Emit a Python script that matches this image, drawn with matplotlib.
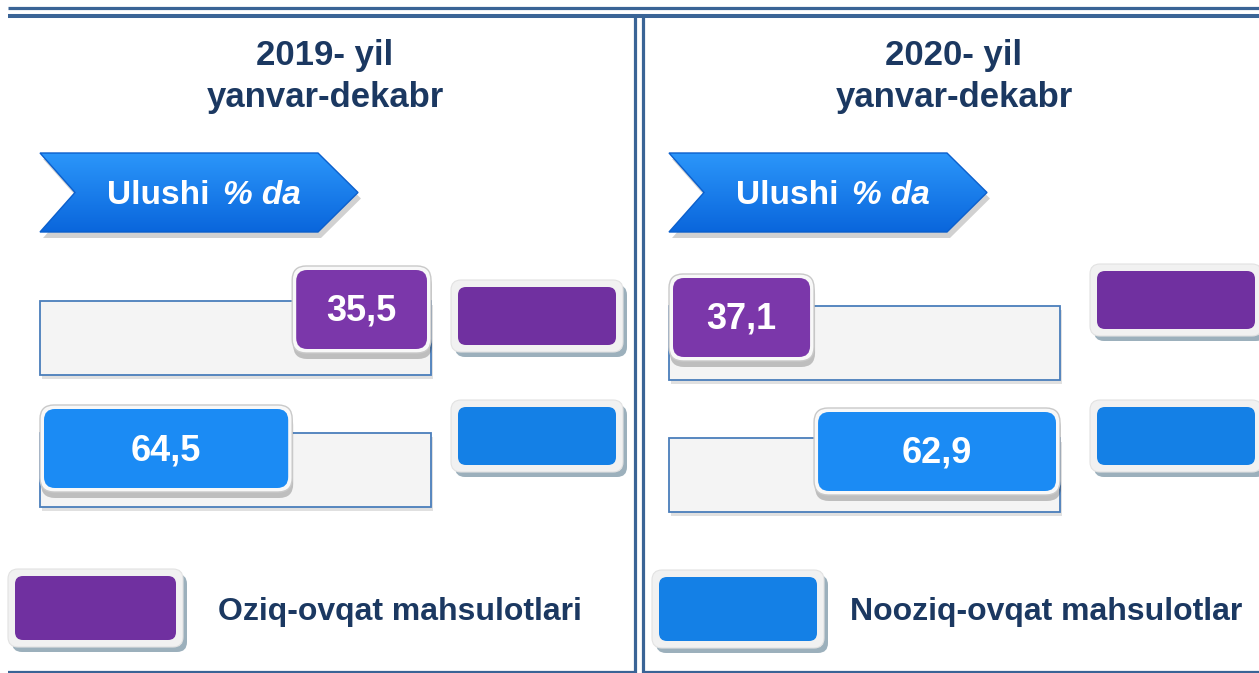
import matplotlib
matplotlib.use("Agg")
import matplotlib.pyplot as plt
from matplotlib.patches import FancyBboxPatch, Rectangle, Polygon
import numpy as np

plt.rcParams['font.family'] = ['Liberation Sans', 'DejaVu Sans']

# ---------------- data ----------------
period_titles = ["2019- yil", "2020- yil"]
period_subtitles = ["yanvar-dekabr", "yanvar-dekabr"]
banner_word = "Ulushi"
banner_unit = "% da"
food_share = [35.5, 37.1]        # Oziq-ovqat mahsulotlari
nonfood_share = [64.5, 62.9]     # Nooziq-ovqat mahsulotlar
series_names = ["Oziq-ovqat mahsulotlari", "Nooziq-ovqat mahsulotlar"]

# ---------------- style / layout ----------------
W, H = 1259, 673
NAVY = "#1B3861"
LINE = "#3A6496"
PURPLE_SW = "#7030A0"
BLUE_SW = "#1480E6"
PURPLE_BOX = "#7B37AA"
BLUE_BOX = "#1B8BF4"

panel_x0 = [0, 629]
food_align = ["right", "left"]
nonfood_align = ["left", "right"]
bg1_top = [301, 306]
bg2_top = [433, 438]
food_box_top = [266, 274]
nonfood_box_top = [405, 408]
sw_x = [451, 1090]
sw1_top = [280, 264]
sw2_top = [400, 400]

fig = plt.figure(figsize=(W / 100, H / 100), dpi=100)
ax = fig.add_axes([0, 0, 1, 1])
ax.set_xlim(0, W)
ax.set_ylim(H, 0)
ax.axis('off')

# frame lines
ax.plot([8, W], [8, 8], color=LINE, lw=2.3, solid_capstyle='butt')
ax.plot([8, W], [15.5, 15.5], color=LINE, lw=2.9, solid_capstyle='butt')
ax.plot([635.5, 635.5], [15, H], color=LINE, lw=2.3, solid_capstyle='butt')
ax.plot([643.5, 643.5], [15, H], color=LINE, lw=2.3, solid_capstyle='butt')
ax.plot([8, 635.5], [671.5, 671.5], color=LINE, lw=1.6, solid_capstyle='butt')
ax.plot([643.5, W], [671.5, 671.5], color=LINE, lw=1.6, solid_capstyle='butt')


def swatch(x, y, w, h, color):
    ax.add_patch(FancyBboxPatch((x + 4, y + 5), w, h,
                                boxstyle="round,pad=0,rounding_size=10",
                                fc="#9CB0BC", lw=0, zorder=2))
    ax.add_patch(FancyBboxPatch((x, y), w, h,
                                boxstyle="round,pad=0,rounding_size=10",
                                fc="#F1F1F1", ec="#E2E2E2", lw=0.8, zorder=3))
    ax.add_patch(FancyBboxPatch((x + 7, y + 7), w - 14, h - 14,
                                boxstyle="round,pad=0,rounding_size=8",
                                fc=color, lw=0, zorder=4))


def value_box(iax, x, y, w, h, color, label, sx):
    r_out = 14 / sx
    r_in = 11 / sx
    iax.add_patch(FancyBboxPatch((x + 1.0 / sx, y + 6), w, h,
                                 boxstyle=f"round,pad=0,rounding_size={r_out}",
                                 mutation_aspect=sx, fc="black", alpha=0.22,
                                 lw=0, zorder=5, clip_on=False))
    iax.add_patch(FancyBboxPatch((x, y), w, h,
                                 boxstyle=f"round,pad=0,rounding_size={r_out}",
                                 mutation_aspect=sx, fc="#F8F8F8", ec="#C9C9C9",
                                 lw=1.0, zorder=6, clip_on=False))
    iax.add_patch(FancyBboxPatch((x + 4 / sx, y + 4), w - 8 / sx, h - 8,
                                 boxstyle=f"round,pad=0,rounding_size={r_in}",
                                 mutation_aspect=sx, fc=color, lw=0,
                                 zorder=7, clip_on=False))
    iax.text(x + w / 2, y + h / 2 + 2, label, ha='center', va='center',
             fontsize=26, fontweight='bold', color='white', zorder=8,
             clip_on=False)


def fmt(v):
    return f"{v:.1f}".replace('.', ',')


bar_px = 391.0
for i in range(2):
    x0 = panel_x0[i]
    cx = x0 + 325
    ax.text(cx, 56, period_titles[i], ha='center', va='center', fontsize=25,
            fontweight='bold', color=NAVY)
    ax.text(cx, 97, period_subtitles[i], ha='center', va='center', fontsize=25,
            fontweight='bold', color=NAVY)

    # banner arrow
    pts = np.array([(40, 153), (318, 153), (358, 192.5), (318, 232),
                    (40, 232), (75, 192.5)], dtype=float)
    pts[:, 0] += x0
    ax.add_patch(Polygon(pts + np.array([3, 6]), closed=True, fc="black",
                         alpha=0.18, lw=0, zorder=2))
    poly = Polygon(pts, closed=True, fc="none", ec="#0B5FCC", lw=1.0, zorder=4)
    ax.add_patch(poly)
    grad = np.linspace(0, 1, 80).reshape(-1, 1)
    c_top = np.array([0x2B, 0x96, 0xFA]) / 255
    c_bot = np.array([0x0A, 0x66, 0xDC]) / 255
    img = c_top[None, None, :] * (1 - grad[:, :, None]) + c_bot[None, None, :] * grad[:, :, None]
    im = ax.imshow(img, extent=(x0 + 40, x0 + 358, 232, 153), origin='upper',
                   aspect='auto', zorder=3)
    im.set_clip_path(poly)
    ax.text(x0 + 210, 195, banner_word, ha='right', va='center',
            fontsize=24, fontweight='bold', color='white', zorder=5)
    ax.text(x0 + 223, 195, banner_unit, ha='left', va='center', fontsize=24,
            fontweight='bold', fontstyle='italic', color='white', zorder=5)

    # bar axes (0..100 % scale)
    left_px = x0 + 40
    iax = fig.add_axes([left_px / W, 1 - 520 / H, bar_px / W, (520 - 255) / H])
    iax.set_xlim(0, 100)
    iax.set_ylim(520, 255)
    iax.axis('off')
    sx = bar_px / 100.0

    for top in (bg1_top[i], bg2_top[i]):
        iax.add_patch(Rectangle((0.4, top + 4), 100, 74, fc="black", alpha=0.12,
                                lw=0, zorder=1, clip_on=False))
        iax.add_patch(Rectangle((0, top), 100, 74, fc="#F4F4F4", ec="#4A7EBB",
                                lw=1.3, zorder=2, clip_on=False))

    v = food_share[i]
    xs = 100 - v if food_align[i] == "right" else 0
    value_box(iax, xs, food_box_top[i], v, 87, PURPLE_BOX, fmt(v), sx)
    v = nonfood_share[i]
    xs = 100 - v if nonfood_align[i] == "right" else 0
    value_box(iax, xs, nonfood_box_top[i], v, 87, BLUE_BOX, fmt(v), sx)

    # side swatches
    swatch(sw_x[i], sw1_top[i], 172, 72, PURPLE_SW)
    swatch(sw_x[i], sw2_top[i], 172, 72, BLUE_SW)

# legend
swatch(8, 569, 175, 78, PURPLE_SW)
ax.text(218, 612, series_names[0], ha='left', va='center', fontsize=23,
        fontweight='bold', color=NAVY)
swatch(652, 570, 172, 78, BLUE_SW)
ax.text(850, 612, series_names[1], ha='left', va='center', fontsize=23,
        fontweight='bold', color=NAVY)

fig.savefig("out.png", dpi=100)
